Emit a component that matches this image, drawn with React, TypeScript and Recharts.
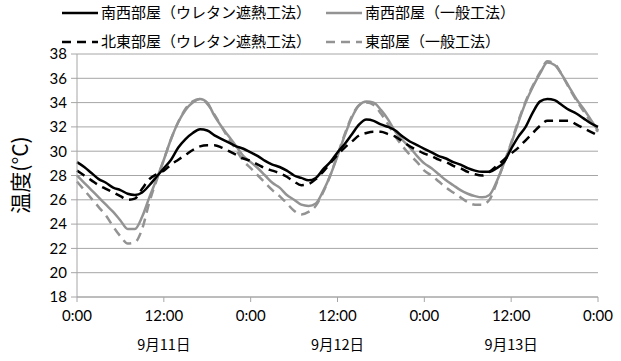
import React from "react";
import { LineChart, Line, XAxis, YAxis, CartesianGrid } from "recharts";

// hourly readings, 9/11 0:00 -> 9/14 0:00 (°C)
const southWestUrethane = [
  29.1, 28.7, 28.2, 27.7, 27.4, 27.0, 26.8, 26.5, 26.4, 26.6, 27.2, 27.9,
  28.6, 29.3, 30.3, 31.0, 31.5, 31.8, 31.7, 31.3, 31.0, 30.7, 30.4, 30.2,
  29.9, 29.6, 29.2, 28.9, 28.7, 28.4, 28.0, 27.8, 27.6, 27.8, 28.5, 29.1,
  29.9, 30.6, 31.4, 32.2, 32.6, 32.5, 32.2, 32.0, 31.7, 31.2, 30.8, 30.5,
  30.2, 29.9, 29.6, 29.4, 29.1, 28.9, 28.6, 28.4, 28.3, 28.3, 28.6, 29.1,
  30.2, 31.2, 32.0, 33.2, 34.1, 34.3, 34.2, 33.8, 33.4, 33.1, 32.7, 32.3,
  32.0,
];
const southWestStandard = [
  28.0, 27.4, 26.8, 26.2, 25.6, 25.0, 24.3, 23.6, 23.6, 24.6, 26.2, 27.7,
  29.3, 31.0, 32.4, 33.4, 34.0, 34.3, 34.0, 32.9, 32.0, 31.2, 30.4, 29.6,
  29.1, 28.6, 28.0, 27.4, 27.0, 26.4, 26.0, 25.6, 25.5, 25.7, 26.7, 28.0,
  29.6, 31.3, 32.8, 33.8, 34.1, 34.0, 33.4, 32.6, 31.6, 30.9, 30.3, 29.6,
  29.0, 28.6, 28.1, 27.6, 27.2, 26.8, 26.5, 26.3, 26.2, 26.4, 27.5, 29.0,
  30.6, 32.4, 34.0, 35.3, 36.4, 37.3, 37.1, 36.3, 35.3, 34.3, 33.5, 32.6,
  31.7,
];
const northEastUrethane = [
  28.4, 28.0, 27.6, 27.2, 26.9, 26.6, 26.3, 26.0, 26.1, 26.9, 27.7, 28.1,
  28.4, 28.9, 29.3, 29.7, 30.1, 30.4, 30.5, 30.5, 30.3, 30.0, 29.7, 29.4,
  29.2, 28.9, 28.6, 28.4, 28.2, 27.9, 27.5, 27.2, 27.3, 27.7, 28.3, 29.0,
  29.7, 30.3, 30.8, 31.3, 31.5, 31.6, 31.6, 31.4, 31.2, 30.8, 30.4, 30.1,
  29.8, 29.6, 29.3, 29.1, 28.8, 28.6, 28.3, 28.1, 28.0, 28.3, 28.8, 29.3,
  29.8, 30.3, 30.9, 31.5, 32.1, 32.5, 32.5, 32.5, 32.5, 32.2, 31.9, 31.6,
  31.3,
];
const eastStandard = [
  27.5, 26.8, 26.1, 25.4, 24.7, 23.8, 23.0, 22.4, 22.5, 23.6, 25.8, 27.6,
  29.3, 31.0, 32.4, 33.5, 34.1, 34.3, 33.9, 33.0, 32.0, 31.0, 30.1, 29.2,
  28.6, 28.0, 27.4, 26.8, 26.3, 25.7, 25.1, 24.8, 25.0, 25.5, 26.6, 28.0,
  29.7, 31.4, 32.9, 33.8, 34.0, 33.8, 33.1, 32.2, 31.2, 30.4, 29.7, 29.1,
  28.4, 28.0, 27.5, 27.0, 26.6, 26.2, 25.8, 25.6, 25.6, 26.0, 27.4, 29.0,
  30.7, 32.5, 34.1, 35.4, 36.5, 37.4, 37.2, 36.3, 35.2, 34.2, 33.3, 32.4,
  31.6,
];

const xTicks = [0, 12, 24, 36, 48, 60, 72];
const xTickLabels = ["0:00", "12:00", "0:00", "12:00", "0:00", "12:00", "0:00"];
const dateLabels: Record<number, string> = { 12: "9月11日", 36: "9月12日", 60: "9月13日" };
const yTicks = [18, 20, 22, 24, 26, 28, 30, 32, 34, 36, 38];
const yTitle = "温度(°C)";

const legendItems = [
  { name: "南西部屋（ウレタン遮熱工法）", color: "#000000", dash: undefined, row: 0, col: 0 },
  { name: "南西部屋（一般工法）", color: "#939393", dash: undefined, row: 0, col: 1 },
  { name: "北東部屋（ウレタン遮熱工法）", color: "#000000", dash: "9 6", row: 1, col: 0 },
  { name: "東部屋（一般工法）", color: "#939393", dash: "9 6", row: 1, col: 1 },
];

const data = southWestUrethane.map((v, i) => ({
  hour: i,
  swU: v,
  swS: southWestStandard[i],
  neU: northEastUrethane[i],
  eS: eastStandard[i],
}));

const numFont = "Lato, 'Noto Sans', sans-serif";
const cjkFont = "'Noto Sans CJK JP', sans-serif";
const GRID = "#a6a6a6";

function TimeTick({ x, y, payload }: any) {
  const idx = xTicks.indexOf(payload.value);
  const date = dateLabels[payload.value];
  return (
    <g>
      <text x={x} y={y} dy={17} textAnchor="middle" fill="#000" fontSize={15} fontFamily={numFont}>
        {xTickLabels[idx]}
      </text>
      {date && (
        <text x={x} y={y} dy={46} textAnchor="middle" fill="#000" fontSize={14.5} fontFamily={cjkFont}>
          {date}
        </text>
      )}
    </g>
  );
}

function Overlay() {
  const colX = [62, 326];
  const rowY = [13, 42];
  return (
    <svg width={621} height={361} style={{ position: "absolute", left: 0, top: 0, pointerEvents: "none" }}>
      {legendItems.map((it) => {
        const x0 = colX[it.col];
        const y = rowY[it.row];
        return (
          <g key={it.name}>
            <line x1={x0} x2={x0 + 36} y1={y} y2={y} stroke={it.color} strokeWidth={2.5} strokeDasharray={it.dash} />
            <text x={x0 + 39} y={y} dy={5} fontSize={15} fontFamily={cjkFont} fill="#000">
              {it.name}
            </text>
          </g>
        );
      })}
      <text
        x={0}
        y={0}
        transform="translate(28 175) rotate(-90)"
        textAnchor="middle"
        fontSize={21}
        fontFamily={cjkFont}
        fill="#000"
      >
        {yTitle}
      </text>
    </svg>
  );
}

export default function App() {
  return (
    <div style={{ position: "absolute", left: 0, top: 0, width: 621, height: 361, background: "#fff" }}>
      <LineChart width={621} height={361} data={data} margin={{ top: 54, right: 23, bottom: 34, left: 0 }}>
        <CartesianGrid horizontal vertical={false} stroke={GRID} strokeWidth={1} />
        <XAxis
          dataKey="hour"
          type="number"
          domain={[0, 72]}
          ticks={xTicks}
          tick={<TimeTick />}
          tickSize={5}
          height={30}
          axisLine={{ stroke: GRID }}
          tickLine={{ stroke: GRID }}
          interval={0}
        />
        <YAxis
          domain={[18, 38]}
          ticks={yTicks}
          width={77}
          tickSize={6}
          tickMargin={4}
          interval={0}
          axisLine={{ stroke: GRID }}
          tickLine={{ stroke: GRID }}
          tick={{ fill: "#000", fontSize: 15, fontFamily: numFont }}
        />
        <Line dataKey="swS" type="monotone" stroke="#939393" strokeWidth={2.5} dot={false} isAnimationActive={false} />
        <Line dataKey="eS" type="monotone" stroke="#939393" strokeWidth={2.5} strokeDasharray="9 6" dot={false} isAnimationActive={false} />
        <Line dataKey="neU" type="monotone" stroke="#000" strokeWidth={2.5} strokeDasharray="9 6" dot={false} isAnimationActive={false} />
        <Line dataKey="swU" type="monotone" stroke="#000" strokeWidth={2.5} dot={false} isAnimationActive={false} />
      </LineChart>
      <Overlay />
    </div>
  );
}
